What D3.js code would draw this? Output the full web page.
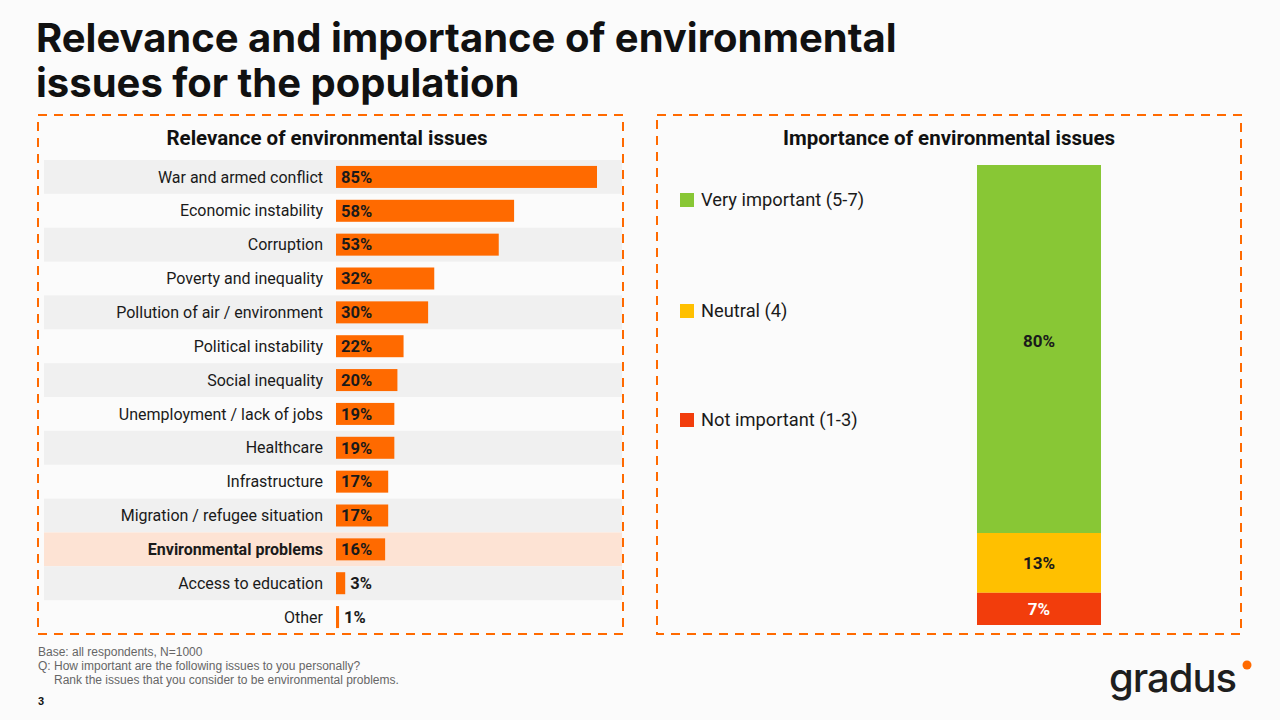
<!DOCTYPE html>
<html>
<head>
<meta charset="utf-8">
<script src="https://cdn.jsdelivr.net/npm/d3@7"></script>
<style>
  body { margin: 0; background: #fbfbfb; }
  svg { display: block; font-family: Roboto, "Noto Sans", sans-serif; }
</style>
</head>
<body>
<div id="chart"></div>
<script>
// relevance of issues (left panel)
const issues = [
  'War and armed conflict', 'Economic instability', 'Corruption', 'Poverty and inequality',
  'Pollution of air / environment', 'Political instability', 'Social inequality',
  'Unemployment / lack of jobs', 'Healthcare', 'Infrastructure',
  'Migration / refugee situation', 'Environmental problems', 'Access to education', 'Other'
];
const relevance = [85, 58, 53, 32, 30, 22, 20, 19, 19, 17, 17, 16, 3, 1];
const highlighted = 'Environmental problems';

// importance (right panel, stacked from top)
const importanceLabels = ['Very important (5-7)', 'Neutral (4)', 'Not important (1-3)'];
const importance = [80, 13, 7];
const importanceColors = ['#88c735', '#ffc000', '#f23d0c'];

const W = 1280, H = 720;
const orange = '#ff6a00';

const svg = d3.select('#chart').append('svg')
  .attr('width', W).attr('height', H);

svg.append('rect').attr('width', W).attr('height', H).attr('fill', '#fbfbfb');

// title
svg.append('text')
  .attr('x', 36).attr('y', 52)
  .attr('font-size', 40).attr('font-weight', 700).attr('fill', '#111')
  .attr('font-family', 'Inter, Roboto, sans-serif')
  .text('Relevance and importance of environmental');
svg.append('text')
  .attr('x', 36).attr('y', 97)
  .attr('font-size', 40).attr('font-weight', 700).attr('fill', '#111')
  .attr('font-family', 'Inter, Roboto, sans-serif')
  .text('issues for the population');

// dashed panels
[[38, 623], [657, 1241]].forEach(([x0, x1]) => {
  svg.append('rect')
    .attr('x', x0).attr('y', 115).attr('width', x1 - x0).attr('height', 519)
    .attr('fill', 'none').attr('stroke', orange).attr('stroke-width', 2)
    .attr('stroke-dasharray', '9,7');
});

// ---- left panel
svg.append('text')
  .attr('x', 327).attr('y', 145).attr('text-anchor', 'middle')
  .attr('font-size', 20.5).attr('font-weight', 700).attr('fill', '#111')
  .text('Relevance of environmental issues');

const y = d3.scaleBand().domain(issues).range([160, 634]).padding(0);
const x = d3.scaleLinear().domain([0, 85]).range([336, 597]);

const rows = svg.append('g').selectAll('g').data(issues).enter().append('g');

rows.append('rect')
  .attr('x', 44).attr('width', 578)
  .attr('y', (d) => y(d)).attr('height', y.bandwidth())
  .attr('fill', (d, i) => d === highlighted ? '#fde3d4' : (i % 2 === 0 ? '#f0f0f0' : 'none'));

rows.append('text')
  .attr('x', 323)
  .attr('y', (d) => y(d) + y.bandwidth() / 2)
  .attr('dy', '0.35em').attr('text-anchor', 'end')
  .attr('font-size', 16)
  .attr('font-weight', (d) => d === highlighted ? 700 : 400)
  .attr('fill', '#1a1a1a')
  .text((d) => d);

rows.append('rect')
  .attr('x', x(0))
  .attr('y', (d) => y(d) + y.bandwidth() / 2 - 11)
  .attr('height', 22)
  .attr('width', (d, i) => Math.max(x(relevance[i]) - x(0), 2))
  .attr('fill', orange);

rows.append('text')
  .attr('x', (d, i) => relevance[i] < 10 ? x(relevance[i]) + 5 : x(0) + 5)
  .attr('y', (d) => y(d) + y.bandwidth() / 2)
  .attr('dy', '0.35em')
  .attr('font-size', 16.5).attr('font-weight', 700).attr('fill', '#1a1a1a')
  .text((d, i) => relevance[i] + '%');

// ---- right panel
svg.append('text')
  .attr('x', 949).attr('y', 145).attr('text-anchor', 'middle')
  .attr('font-size', 20.5).attr('font-weight', 700).attr('fill', '#111')
  .text('Importance of environmental issues');

const yStack = d3.scaleLinear().domain([0, 100]).range([165, 625]);
const starts = importance.map((v, i) => d3.sum(importance.slice(0, i)));

const segs = svg.append('g').selectAll('g').data(importance).enter().append('g');
segs.append('rect')
  .attr('x', 977).attr('width', 124)
  .attr('y', (d, i) => yStack(starts[i]))
  .attr('height', (d) => yStack(d) - yStack(0))
  .attr('fill', (d, i) => importanceColors[i]);
segs.append('text')
  .attr('x', 1039)
  .attr('y', (d, i) => i === 0 ? 341 : yStack(starts[i] + d / 2))
  .attr('dy', '0.35em').attr('text-anchor', 'middle')
  .attr('font-size', 17).attr('font-weight', 700)
  .attr('fill', (d, i) => i === 2 ? '#fff' : '#1a1a1a')
  .text((d) => d + '%');

const legendY = [200, 311, 420];
const legend = svg.append('g').selectAll('g').data(importanceLabels).enter().append('g');
legend.append('rect')
  .attr('x', 680).attr('y', (d, i) => legendY[i] - 7)
  .attr('width', 14).attr('height', 14)
  .attr('fill', (d, i) => importanceColors[i]);
legend.append('text')
  .attr('x', 701).attr('y', (d, i) => legendY[i])
  .attr('dy', '0.35em').attr('font-size', 18.3).attr('fill', '#1a1a1a')
  .text((d) => d);

// footer
const foot = svg.append('g')
  .attr('font-family', '"Liberation Sans", Arial, sans-serif')
  .attr('font-size', 12).attr('fill', '#666');
foot.append('text').attr('x', 38).attr('y', 656).text('Base: all respondents, N=1000');
foot.append('text').attr('x', 38).attr('y', 670).text('Q: How important are the following issues to you personally?');
foot.append('text').attr('x', 54).attr('y', 684).text('Rank the issues that you consider to be environmental problems.');
svg.append('text').attr('x', 38).attr('y', 705)
  .attr('font-size', 11).attr('font-weight', 700).attr('fill', '#111')
  .attr('font-family', '"Liberation Sans", Arial, sans-serif')
  .text('3');

// logo
svg.append('text')
  .attr('x', 1109).attr('y', 692)
  .attr('font-size', 40).attr('font-weight', 500).attr('fill', '#1e1e1e')
  .attr('font-family', 'Inter, "Noto Sans", sans-serif')
  .attr('letter-spacing', -1)
  .text('gradus');
svg.append('circle').attr('cx', 1247).attr('cy', 665).attr('r', 4.5).attr('fill', orange);
</script>
</body>
</html>
